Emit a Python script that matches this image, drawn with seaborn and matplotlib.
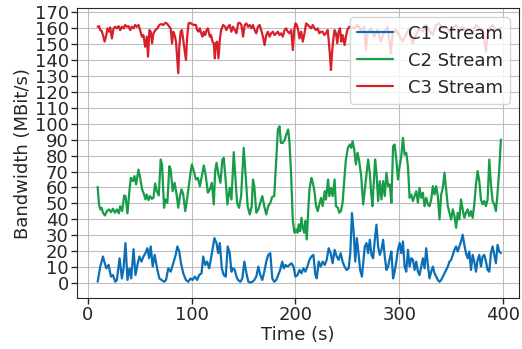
import pandas as pd
import seaborn as sns
import matplotlib
matplotlib.use("Agg")
import matplotlib.pyplot as plt

# --- datos (tiempo en s, ancho de banda en MBit/s) ---
t_c1 = [9.6, 12.1, 14.7, 16.0, 17.9, 20.1, 22.4, 24.3, 26.5, 28.1, 30.7, 32.9, 34.5, 36.4, 38.3,
        40.3, 41.9, 44.1, 46.0, 47.9, 49.8, 51.8, 53.7, 55.6, 57.5, 59.1, 60.7, 62.6, 64.5, 67.1,
        69.0, 71.2, 73.5, 75.4, 77.6, 79.9, 82.4, 84.7, 86.3, 88.2, 89.8, 92.0, 94.6, 96.8, 99.0,
        101.0, 103.2, 105.4, 107.3, 109.6, 111.2, 113.1, 115.0, 116.9, 118.5, 120.1, 122.0, 124.0,
        125.6, 127.2, 129.1, 131.0, 132.9, 134.8, 136.7, 138.4, 140.0, 141.6, 143.2, 144.8, 147.0,
        148.9, 150.8, 152.8, 154.7, 156.6, 158.5, 160.4, 162.3, 164.3, 166.2, 168.1, 170.0, 171.9,
        173.8, 175.8, 177.7, 179.6, 181.5, 183.4, 185.3, 187.3, 188.9, 190.5, 192.4, 194.3, 196.2,
        198.1, 200.0, 202.0, 203.9, 205.8, 207.7, 209.6, 211.5, 213.5, 215.4, 217.3, 219.2, 220.5,
        222.4, 224.3, 226.2, 228.2, 230.1, 232.0, 233.9, 235.8, 237.7, 239.7, 241.6, 243.5, 245.4,
        247.3, 249.2, 251.2, 252.8, 254.4, 256.0, 257.6, 259.1, 260.7, 262.3, 264.0, 266.8, 268.4,
        270.0, 271.6, 273.2, 274.8, 276.4, 278.0, 279.6, 281.2, 282.8, 284.4, 286.0, 287.6, 289.2,
        290.8, 292.4, 294.0, 295.5, 297.1, 298.7, 300.3, 301.9, 303.5, 305.1, 306.7, 308.3, 309.9,
        311.5, 313.1, 314.7, 316.3, 317.9, 319.5, 321.1, 322.7, 324.3, 325.9, 327.5, 329.1, 330.7,
        332.3, 333.9, 335.5, 337.1, 338.7, 340.3, 341.9, 343.5, 345.1, 346.7, 348.3, 349.9, 351.5,
        353.1, 354.7, 356.2, 357.8, 359.4, 361.0, 362.6, 364.2, 365.8, 367.4, 369.0, 370.6, 372.2,
        373.8, 375.4, 377.0, 378.6, 380.2, 381.8, 383.4, 385.0, 386.6, 388.2, 389.8, 391.4, 393.0,
        394.6, 396.2, 397.8]
bw_c1 = [1.0, 10.5, 16.8, 13.6, 9.4, 11.5, 4.2, 5.2, 1.0, 2.1, 15.7, 3.1, 9.4, 25.2, 2.1,
         9.4, 3.1, 21.4, 5.2, 11.5, 16.8, 13.6, 16.8, 18.9, 22.0, 15.7, 23.1, 10.5, 17.8, 8.4,
         3.1, 2.1, 1.0, 2.1, 9.4, 7.3, 12.6, 17.8, 23.1, 19.9, 12.6, 6.3, 2.1, 1.0, 3.1,
         2.1, 4.2, 2.1, 5.2, 6.3, 16.8, 11.5, 13.6, 9.4, 14.7, 21.0, 28.3, 25.2,
         18.9, 25.2, 9.4, 5.2, 4.2, 23.1, 18.9, 7.3, 9.4, 8.4, 4.2, 2.1, 1.0,
         3.1, 13.6, 6.3, 1.0, 0.5, 1.0, 2.1, 4.2, 10.5, 5.2, 2.1, 7.3, 13.6,
         17.8, 18.9, 3.1, 1.0, 2.1, 5.2, 8.4, 13.6, 9.4, 11.5, 10.5, 11.5, 12.6,
         10.5, 4.2, 5.2, 8.4, 6.3, 9.4, 7.3, 10.5, 14.7, 16.8, 17.8, 5.2, 3.1,
         13.6, 10.5, 13.6, 11.5, 14.7, 22.0, 18.9, 12.6, 21.0, 16.8, 14.7, 18.9, 13.6,
         10.5, 8.4, 9.4, 18.9, 44.0, 32.5, 13.6, 28.3, 18.9, 8.4, 4.2, 23.1, 25.2,
         18.9, 27.3, 17.8, 15.7, 27.3, 36.7, 23.1, 17.8, 21.0, 27.3, 16.8, 8.4, 10.5,
         15.7, 19.9, 3.1, 7.3, 13.6, 21.0, 25.2, 18.9, 26.2, 10.5, 7.3, 21.0, 10.5,
         15.7, 14.7, 8.4, 13.6, 7.3, 5.2, 10.5, 15.7, 9.4, 22.0, 11.5, 3.1, 7.3,
         10.5, 6.3, 4.2, 2.1, 1.0, 2.1, 4.2, 6.3, 8.4, 10.5, 13.6, 14.7, 17.8,
         21.0, 23.1, 19.9, 23.1, 26.2, 30.4, 24.1, 18.9, 15.7, 19.9, 8.4, 17.8, 13.6,
         7.3, 14.7, 17.8, 10.5, 16.8, 17.8, 13.6, 8.4, 7.3, 18.9, 23.1, 17.8, 12.6,
         24.1, 19.9, 18.9]

t_c2 = [9.6, 10.9, 12.1, 13.4, 14.7, 16.6, 18.5, 20.4, 22.4, 24.3, 26.2, 28.1, 30.0, 31.3, 33.2,
        35.1, 36.4, 38.3, 40.3, 41.5, 43.5, 45.0, 46.6, 48.9, 50.5, 52.4, 54.3, 55.6, 56.9, 58.5,
        60.1, 61.7, 63.3, 64.9, 66.5, 68.4, 70.3, 71.6, 73.5, 74.8, 76.7, 78.6, 79.9, 81.8, 83.7,
        85.6, 87.2, 88.8, 90.4, 92.0, 93.9, 95.2, 97.1, 99.0, 100.3, 102.2, 104.2, 106.1, 108.0,
        109.9, 111.8, 113.7, 115.7, 117.6, 119.5, 121.4, 122.7, 124.0, 125.9, 127.8, 129.7, 131.0,
        132.9, 134.5, 136.7, 138.4, 140.6, 141.9, 143.8, 145.7, 147.7, 150.2, 152.1, 154.0, 156.0,
        157.9, 159.1, 160.4, 162.3, 164.3, 166.2, 168.1, 170.0, 171.9, 173.8, 175.8, 177.7, 179.6,
        181.5, 183.1, 184.7, 186.0, 187.9, 189.8, 191.7, 193.0, 194.3, 195.9, 197.5, 199.1, 200.7,
        202.0, 203.2, 204.5, 205.8, 207.1, 208.4, 209.6, 210.9, 212.2, 213.5, 215.4, 216.7, 218.3,
        219.9, 221.5, 223.0, 224.6, 226.2, 228.2, 229.4, 231.4, 232.6, 234.2, 235.8, 237.7, 239.0,
        240.9, 242.2, 243.8, 245.4, 247.3, 248.6, 250.5, 252.4, 253.7, 255.0, 256.6, 258.2, 259.8,
        261.4, 263.3, 265.2, 266.8, 268.4, 270.0, 271.6, 272.9, 274.1, 275.4, 276.7, 278.0, 279.6,
        281.2, 282.8, 284.4, 286.0, 287.6, 289.2, 290.8, 292.4, 294.0, 295.5, 297.1, 298.7, 300.3,
        301.9, 303.5, 305.1, 306.7, 308.3, 309.9, 311.5, 313.1, 314.7, 316.3, 317.9, 319.5, 321.1,
        322.7, 324.3, 325.9, 327.5, 329.1, 330.7, 332.3, 333.9, 335.5, 337.1, 338.7, 340.3, 341.9,
        343.5, 345.1, 346.7, 348.3, 349.9, 351.5, 353.1, 354.7, 356.2, 357.8, 359.4, 361.0, 362.6,
        364.2, 365.8, 367.4, 369.0, 370.6, 372.2, 373.8, 375.4, 377.0, 378.6, 380.2, 381.8, 383.4,
        385.0, 386.6, 388.2, 389.8, 391.4, 393.0, 394.6, 396.2, 397.8]
bw_c2 = [60.4, 49.4, 46.3, 47.3, 44.2, 42.5, 45.2, 46.3, 44.6, 46.7, 44.2, 46.3, 43.8, 48.3, 45.2,
         55.0, 54.6, 43.8, 58.8, 66.0, 64.0, 67.1, 61.9, 71.2, 66.0, 58.8, 55.6, 52.5, 55.6, 52.1,
         54.6, 52.9, 53.5, 62.5, 57.7, 55.0, 77.5, 74.4, 47.3, 52.5, 50.4, 73.3, 71.2, 57.7, 62.9,
         55.6, 47.3, 54.6, 58.8, 55.6, 45.2, 50.4, 59.8, 69.2, 74.4, 70.2, 65.0, 66.0, 60.8,
         67.1, 73.8, 67.1, 56.7, 58.8, 62.9, 49.4, 70.2, 75.4, 68.1, 62.9, 77.5, 78.5,
         64.0, 49.4, 59.8, 52.5, 82.1, 69.2, 50.4, 47.3, 54.6, 84.8, 67.1, 48.3, 43.1,
         48.3, 65.0, 60.8, 44.2, 46.3, 50.4, 54.6, 48.3, 43.1, 48.3, 50.4, 54.2, 54.6,
         77.5, 96.3, 98.3, 87.9, 87.9, 90.0, 94.2, 96.3, 87.9, 67.1, 39.0, 31.7, 33.8,
         31.7, 36.9, 32.7, 41.0, 34.8, 31.7, 39.0, 27.5, 44.2, 58.8, 66.0, 62.9, 57.7,
         48.3, 45.2, 49.4, 53.5, 48.3, 57.7, 52.5, 65.0, 54.6, 59.8, 54.6, 65.0, 48.3,
         47.3, 44.2, 45.2, 50.4, 67.1, 77.5, 84.8, 86.9, 84.8, 89.0, 83.8, 74.4, 81.7,
         76.5, 67.1, 49.4, 58.8, 68.1, 77.5, 69.2, 56.7, 48.3, 62.9, 77.5, 69.2, 51.5,
         64.0, 52.5, 64.0, 54.6, 69.2, 60.8, 61.9, 50.4, 85.8, 86.9, 77.5, 65.0, 73.3,
         79.6, 91.0, 80.6, 81.7, 73.3, 53.5, 55.6, 51.5, 54.6, 57.7, 50.4, 59.8, 53.5,
         56.7, 48.3, 53.5, 49.4, 48.3, 52.5, 60.8, 55.6, 60.8, 54.6, 40.0, 55.6, 59.8,
         69.2, 58.8, 48.3, 44.2, 40.0, 46.3, 42.1, 34.8, 44.2, 40.0, 52.5, 46.3, 41.0,
         44.2, 46.3, 42.1, 45.2, 41.0, 49.4, 61.9, 70.2, 64.0, 52.5, 49.4, 51.5, 48.3,
         52.5, 77.5, 61.9, 51.5, 49.4, 45.2, 56.7, 71.2, 90.0]

t_c3 = [9.6, 10.9, 12.1, 13.4, 14.7, 16.3, 17.9, 19.2, 20.4, 21.7, 23.3, 24.9, 26.5, 28.1, 29.7,
        31.3, 32.9, 34.5, 36.1, 37.7, 39.3, 40.9, 42.5, 44.1, 45.7, 47.3, 48.9, 50.5, 52.1, 53.7,
        55.3, 56.9, 58.1, 59.4, 60.7, 62.0, 63.3, 65.2, 67.1, 69.0, 70.9, 72.8, 74.8, 76.7, 78.6,
        79.9, 81.2, 82.4, 83.7, 85.0, 86.3, 87.2, 88.2, 89.5, 90.7, 92.0, 93.3, 94.6, 95.8, 97.1,
        98.4, 100.3, 102.2, 104.2, 105.4, 106.7, 108.0, 109.3, 110.5, 111.8, 113.1, 114.4, 115.7,
        117.6, 118.8, 120.1, 121.4, 122.4, 123.3, 124.6, 125.9, 127.2, 128.4, 130.4, 132.3, 133.5,
        135.5, 136.8, 138.4, 140.0, 141.6, 143.2, 144.8, 146.4, 148.0, 149.6, 151.2, 152.8, 154.4,
        156.0, 157.6, 159.1, 160.7, 162.3, 163.9, 165.5, 167.1, 168.7, 170.3, 171.9, 173.5, 175.1,
        176.7, 178.3, 179.9, 181.5, 183.1, 184.7, 186.3, 187.9, 189.5, 191.1, 192.7, 194.3, 195.9,
        197.5, 198.8, 200.0, 201.3, 202.6, 203.9, 205.5, 207.1, 208.7, 210.3, 211.9, 213.5, 215.1,
        216.7, 218.3, 219.9, 221.5, 223.0, 224.6, 226.2, 227.8, 229.4, 231.0, 232.0, 233.3, 234.2,
        235.2, 236.5, 237.7, 239.0, 240.3, 241.6, 242.9, 244.1, 245.4, 247.3, 248.6, 249.9, 251.8,
        256.6, 259.8, 263.0, 266.2, 267.8, 269.4, 272.6, 275.8, 279.1, 282.3, 285.5, 288.7, 291.9,
        293.5, 296.7, 299.9, 303.1, 306.3, 309.6, 312.8, 316.0, 319.2, 322.4, 325.6, 328.8, 332.1,
        335.3, 338.5, 341.7, 344.9, 348.1, 351.3, 354.5, 357.7, 361.0, 364.2, 367.4, 370.6, 373.8,
        377.0, 380.2, 383.5, 385.1, 386.7, 389.9, 393.1, 397.8]
bw_c3 = [160.6, 161.0, 158.5, 158.1, 155.4, 151.3, 155.4, 159.6, 157.5, 160.2, 153.3, 159.6, 160.6,
         159.6, 161.0, 158.5, 160.6, 159.6, 161.7, 160.6, 161.0, 158.5, 160.6, 159.6, 161.7, 160.6,
         161.7, 158.5, 154.4, 155.4, 148.1, 154.4, 141.9, 158.5, 157.5, 150.2, 156.5, 158.5, 159.6,
         161.7, 162.3, 161.7, 163.1, 162.3, 160.6, 159.6, 150.2, 157.5, 155.4, 151.3, 139.8, 131.5,
         148.1, 157.5, 158.5, 152.3, 146.0, 139.8, 154.4, 162.7, 163.1, 162.3, 161.7, 161.7, 158.5,
         157.5, 159.6, 156.5, 154.4, 157.5, 155.4, 158.5, 159.6, 154.4, 155.4, 151.3, 150.2, 140.8,
         150.2, 151.3, 140.8, 152.3, 158.5, 161.7, 160.6, 158.5, 161.0, 161.7, 157.5, 160.6, 158.5,
         156.5, 162.7, 163.1, 161.7, 154.4, 161.7, 162.7, 160.6, 161.7, 159.6, 161.7, 158.5, 156.5,
         160.6, 161.7, 158.5, 154.4, 149.2, 155.4, 157.5, 154.4, 156.5, 157.5, 155.4, 156.5, 157.5,
         155.4, 156.5, 154.4, 158.5, 159.6, 157.5, 156.5, 158.5, 146.0, 158.5, 162.7, 161.7, 158.5,
         153.3, 157.5, 151.3, 156.5, 162.7, 161.7, 160.6, 159.6, 161.7, 159.6, 158.5, 159.6, 156.5,
         157.5, 157.5, 155.4, 156.5, 158.5, 152.3, 141.9, 133.5, 144.0, 153.3, 158.5, 156.5, 150.2,
         157.5, 159.6, 151.3, 155.4, 149.2, 154.4, 158.5, 160.6, 159.6, 161.7, 158.6, 160.6, 146.1,
         156.5, 159.6, 154.4, 158.6, 151.3, 157.5, 160.6, 144.0, 156.5, 158.6, 155.4, 151.3, 155.4,
         159.6, 150.2, 155.4, 159.6, 157.5, 161.7, 158.6, 155.4, 161.7, 162.7, 159.6, 160.6, 157.5,
         159.6, 161.7, 158.6, 160.6, 158.6, 159.6, 156.5, 161.7, 159.6, 158.6, 145.0, 157.5, 159.6,
         161.7, 158.6, 160.0]

series_names = ["C1 Stream", "C2 Stream", "C3 Stream"]
series_colors = ["#0b6fb8", "#189c48", "#d8202a"]

# --- estilo ---
sns.set_style("whitegrid", {"grid.color": ".75", "axes.edgecolor": ".15",
                            "xtick.bottom": True, "ytick.left": True})
plt.rcParams["font.family"] = ["DejaVu Sans"]
plt.rcParams["font.size"] = 13

fig, ax = plt.subplots(figsize=(5.22, 3.49), dpi=100)
fig.subplots_adjust(left=0.1475, right=0.994, bottom=0.146, top=0.976)

for tt, bw, name, col in zip([t_c1, t_c2, t_c3], [bw_c1, bw_c2, bw_c3], series_names, series_colors):
    df = pd.DataFrame({"t": tt, "bw": bw})
    sns.lineplot(data=df, x="t", y="bw", color=col, label=name, linewidth=1.6, ax=ax)

ax.set_xlim(-10.3, 415.1)
ax.set_ylim(-9.2, 172.1)
ax.set_yticks(range(0, 171, 10))
ax.set_xticks(range(0, 401, 100))
ax.tick_params(labelsize=13, length=4, width=1, color=".15", pad=2)
ax.set_xlabel("Time (s)", fontsize=13, labelpad=1)
ax.set_ylabel("Bandwidth (MBit/s)", fontsize=13, labelpad=2)

leg = ax.legend(loc="upper right", fontsize=13, framealpha=0.8, borderaxespad=0.5)

fig.savefig("out.png", dpi=100)
